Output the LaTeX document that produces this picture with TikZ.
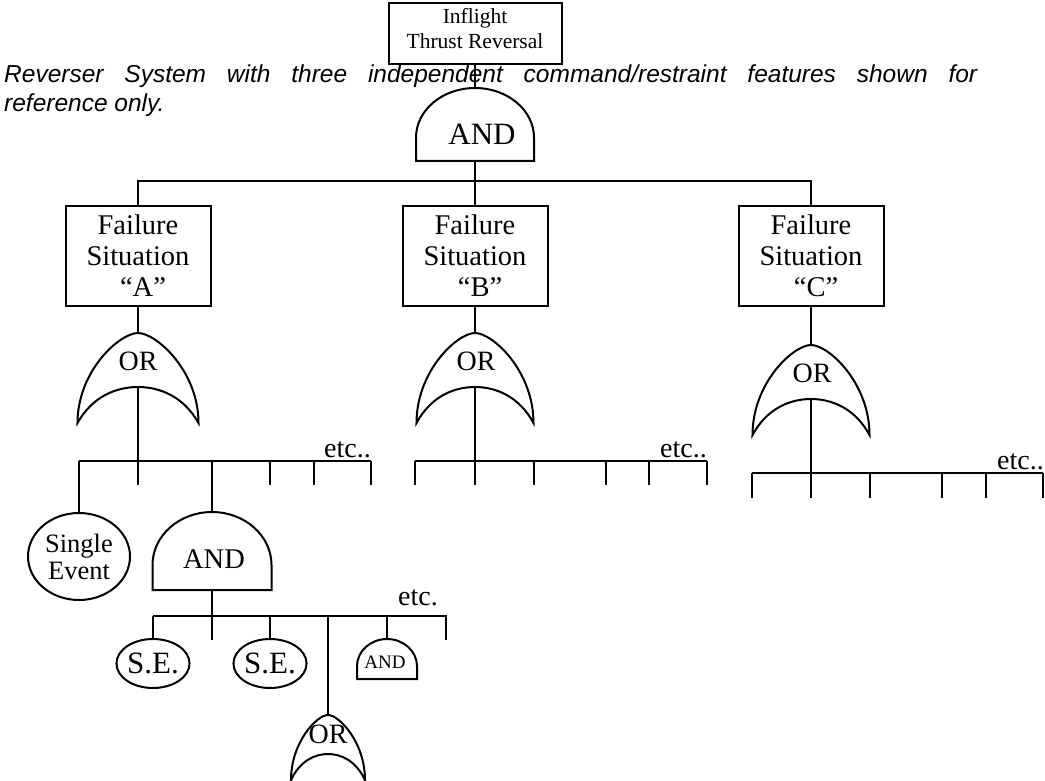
\documentclass[tikz,border=0pt]{standalone}
\usepackage{fontspec}
\setmainfont{Liberation Serif}
\newfontfamily\notefont{Liberation Sans}
\usepackage{tikz}
\usetikzlibrary{shapes.geometric, calc}

\begin{document}
\begin{tikzpicture}[x=1pt, y=-1pt]
        \tikzset{
            wire/.style={line width=2pt},
            topnode/.style={draw, line width=2pt, rectangle, minimum width=173pt, minimum height=61pt, inner sep=0pt, text depth=10pt, align=center, font=\fontsize{21.5}{25}\selectfont},
            fsnode/.style={draw, line width=2pt, rectangle, minimum width=145pt, minimum height=100pt, inner sep=0pt, align=center, font=\fontsize{28.5}{31}\selectfont},
            eventnode/.style={draw, line width=2pt, ellipse, inner sep=0pt, align=center},
            gatelabel/.style={inner sep=0pt, font=\fontsize{#1}{#1}\selectfont},
            etcnode/.style={inner sep=0pt, anchor=base east, font=\fontsize{28}{28}\selectfont},
            notenode/.style={inner sep=0pt, anchor=base west, font=\notefont\itshape\fontsize{24.5}{29}\selectfont},
            andgate/.pic={
                \draw[wire] (-1,0.68) arc[start angle=180, end angle=360, x radius=1, y radius=0.68] -- (1,1) -- (-1,1) -- cycle;
                \coordinate (-top) at (0,0);
                \coordinate (-out) at (0,1);
            },
            orgate/.pic={
                \draw[wire] (-1,1) .. controls (-1,0.42) and (-0.3,0) .. (0,0) .. controls (0.3,0) and (1,0.42) .. (1,1)
                    .. controls (0.75,0.7) and (0.35,0.6) .. (0,0.6) .. controls (-0.35,0.6) and (-0.75,0.7) .. (-1,1) -- cycle;
                \coordinate (-top) at (0,0);
                \coordinate (-out) at (0,0.6);
            }
        }
        \useasboundingbox (0,0) rectangle (1045,781);

        % note over the tree
        \node [notenode] (note1) at (4,83) {\makebox[973pt][s]{Reverser System with three independent command/restraint features shown for}};
        \node [notenode] (note2) at (4,112) {reference only.};

        % top event
        \node [topnode] (top) at (475,33.5) {Inflight\\Thrust Reversal};
        \pic [xscale=59, yscale=73] (andtop) at (475,88) {andgate};
        \node [gatelabel=31] (andtoplbl) at (482,134) {AND};
        \draw [wire] (top.south) -- (andtop-top);

        % failure situations
        \node [fsnode] (fsA) at (138,256) {Failure\\Situation\\\hspace*{10pt}“A”};
        \node [fsnode] (fsB) at (475,256) {Failure\\Situation\\\hspace*{10pt}“B”};
        \node [fsnode] (fsC) at (811,256) {Failure\\Situation\\\hspace*{10pt}“C”};
        \draw [wire] (andtop-out) -- (fsB.north);
        \draw [wire] (fsA.north) -- ++(0,-24) -| (fsC.north);

        % OR gates
        \pic [xscale=60.5, yscale=90] (orA) at (138,333) {orgate};
        \pic [xscale=58.5, yscale=90] (orB) at (475,333) {orgate};
        \pic [xscale=58.5, yscale=90] (orC) at (811,345) {orgate};
        \node [gatelabel=28] (orAlbl) at (138,361) {OR};
        \node [gatelabel=28] (orBlbl) at (476,361) {OR};
        \node [gatelabel=28] (orClbl) at (812,373.5) {OR};
        \draw [wire] (fsA.south) -- (orA-top);
        \draw [wire] (fsB.south) -- (orB-top);
        \draw [wire] (fsC.south) -- (orC-top);

        % inputs of OR "A"
        \coordinate (busA) at (79,461);
        \draw [wire] (orA-out) -- ($(orA-out |- busA)+(0,24)$);
        \draw [wire] (busA) -- ++(292,0);
        \foreach \dx in {191,235,292}
            \draw [wire] ($(busA)+(\dx,0)$) -- ++(0,24);
        \node [etcnode] (etcA) at ($(busA)+(292,-4)$) {etc..};

        \node [eventnode, minimum width=102pt, minimum height=87pt, font=\fontsize{26.5}{27}\selectfont] (se) at (79,556.5) {Single\\Event};
        \draw [wire] (busA) -- (se.north);

        \pic [xscale=59.5, yscale=78] (andB) at (212,512) {andgate};
        \node [gatelabel=28.5] (andBlbl) at (214,559.5) {AND};
        \draw [wire] (busA -| andB-top) -- (andB-top);

        % inputs of OR "B"
        \coordinate (busB) at (415,461);
        \draw [wire] (orB-out) -- ($(orB-out |- busB)+(0,24)$);
        \draw [wire] (busB) -- ++(292,0);
        \foreach \dx in {0,119,191,234,292}
            \draw [wire] ($(busB)+(\dx,0)$) -- ++(0,24);
        \node [etcnode] (etcB) at ($(busB)+(292,-4)$) {etc..};

        % inputs of OR "C"
        \coordinate (busC) at (752,473);
        \draw [wire] (orC-out) -- ($(orC-out |- busC)+(0,25)$);
        \draw [wire] (busC) -- ++(291,0);
        \foreach \dx in {0,118,190,234,291}
            \draw [wire] ($(busC)+(\dx,0)$) -- ++(0,25);
        \node [etcnode] (etcC) at ($(busC)+(292,-4)$) {etc..};

        % inputs of the lower AND
        \coordinate (busD) at (153,616);
        \draw [wire] (andB-out) -- ($(andB-out |- busD)+(0,24)$);
        \draw [wire] (busD) -- ++(293,0) -- ++(0,24);
        \node [etcnode] (etcD) at ($(busD)+(285,-11)$) {etc.};

        \node [eventnode, minimum width=58pt, minimum height=49pt, font=\fontsize{31}{31}\selectfont] (se1) at (153,663.5) {S.E.};
        \node [eventnode, minimum width=58pt, minimum height=49pt, font=\fontsize{31}{31}\selectfont] (se2) at (270,663.5) {S.E.};
        \draw [wire] (busD) -- (se1.north);
        \draw [wire] (busD -| se2.north) -- (se2.north);

        \pic [xscale=37, yscale=65] (orD) at (328,715) {orgate};
        \node [gatelabel=28] (orDlbl) at (328,734) {OR};
        \draw [wire] (busD -| orD-top) -- (orD-top);

        \pic [xscale=30, yscale=40] (andC) at (387,639) {andgate};
        \node [gatelabel=19] (andClbl) at (385,662.5) {AND};
        \draw [wire] (busD -| andC-top) -- (andC-top);
    \end{tikzpicture}
\end{document}
